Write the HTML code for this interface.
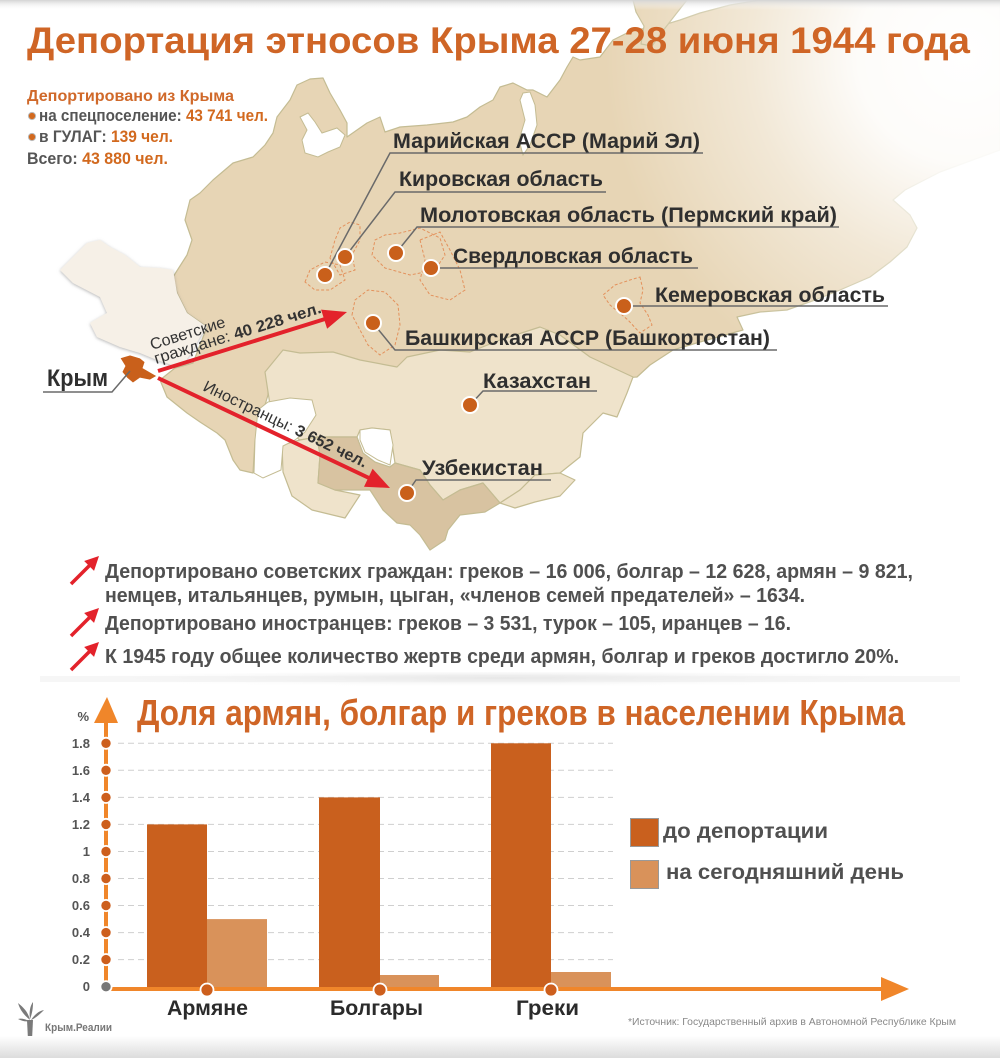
<!DOCTYPE html>
<html><head><meta charset="utf-8">
<style>
html,body{margin:0;padding:0;background:#fff;width:1000px;height:1058px;overflow:hidden}
svg{display:block}
text{font-family:"Liberation Sans","DejaVu Sans",sans-serif}
</style></head><body>
<svg width="1000" height="1058" viewBox="0 0 1000 1058" xmlns="http://www.w3.org/2000/svg">
<defs>
 <linearGradient id="topsh" x1="0" y1="0" x2="0" y2="1">
  <stop offset="0" stop-color="#d4d4d4"/><stop offset="1" stop-color="#ffffff" stop-opacity="0"/>
 </linearGradient>
 <linearGradient id="botsh" x1="0" y1="0" x2="0" y2="1">
  <stop offset="0" stop-color="#ffffff"/><stop offset="1" stop-color="#dcdcdc"/>
 </linearGradient>
 <radialGradient id="fade" cx="965" cy="55" r="360" gradientUnits="userSpaceOnUse">
  <stop offset="0" stop-color="#fff" stop-opacity="1"/>
  <stop offset="0.3" stop-color="#fff" stop-opacity="0.92"/>
  <stop offset="0.6" stop-color="#fff" stop-opacity="0.45"/>
  <stop offset="1" stop-color="#fff" stop-opacity="0"/>
 </radialGradient>
 <radialGradient id="sep" cx="500" cy="678" r="470" gradientUnits="userSpaceOnUse" gradientTransform="translate(0,678) scale(1,0.02) translate(0,-678)">
  <stop offset="0" stop-color="#dedede"/><stop offset="1" stop-color="#ffffff" stop-opacity="0"/>
 </radialGradient>
 <filter id="sh" x="-10%" y="-10%" width="120%" height="120%">
  <feDropShadow dx="0" dy="1" stdDeviation="1.6" flood-color="#777" flood-opacity="0.55"/>
 </filter>
</defs>

<rect x="0" y="0" width="1000" height="1058" fill="#fff"/>

<!-- ============ MAP ============ -->
<g stroke="#c4bc93" stroke-width="1.2" stroke-linejoin="round">
 <!-- Russia -->
 <path fill="#e7d5b5" d="M190,200 L200,193 L213,180 L233,163 L253,157 L265,145 L273,133 L277,117 L290,100 L297,85 L310,79 L323,78 L330,93 L340,110 L347,123 L347,137 L367,123 L380,117 L385,132 L400,127 L427,125 L453,122 L467,117 L480,107 L493,100 L500,87 L513,83 L527,90 L533,90 L547,97 L560,80 L567,67 L573,57 L580,60 L600,57 L613,40 L633,30 L657,27 L680,20 L700,13 L730,5 L760,0 L1000,0 L1000,150 L940,172 L905,190 L893,200 L910,215 L917,228 L907,247 L890,262 L870,277 L840,290 L815,300 L787,310 L760,312 L737,317 L743,330 L700,342 L673,350 L650,365 L637,377 L600,380 L450,380 L300,375 L268,380 L268,395 L262,415 L255,440 L253,473 L240,470 L233,460 L225,440 L217,433 L200,422 L187,413 L167,397 L160,380 L175,368 L193,363 L200,345 L207,327 L187,313 L177,293 L173,277 L187,255 L192,240 L185,220 Z"/>
 <!-- Novaya Zemlya -->
 <path fill="#e7d5b5" d="M633,0 L687,0 L676,14 L662,32 L652,46 L641,44 L644,26 L636,12 Z"/>
 <!-- Kazakhstan -->
 <path fill="#efe3cb" d="M265,372 L283,350 L300,353 L333,352 L360,360 L397,367 L407,357 L440,350 L470,352 L500,340 L540,327 L560,335 L590,357 L633,377 L627,393 L617,417 L603,413 L583,433 L580,457 L560,473 L535,475 L520,490 L500,503 L483,483 L460,490 L443,500 L430,485 L420,470 L395,463 L390,430 L372,428 L360,430 L357,437 L317,437 L300,440 L285,430 L275,420 L270,405 Z"/>
 <!-- Turkmenistan -->
 <path fill="#efe3cb" d="M282,445 L300,440 L317,437 L320,455 L318,483 L335,490 L360,495 L345,518 L312,510 L292,496 L283,472 Z"/>
 <!-- Kyrgyz etc -->
 <path fill="#efe3cb" d="M500,503 L520,490 L535,475 L560,473 L575,480 L560,496 L535,502 L515,508 Z"/>
 <!-- Uzbekistan -->
 <path fill="#d8c3a1" d="M317,437 L357,437 L363,453 L375,462 L390,467 L395,463 L420,470 L430,485 L443,500 L460,490 L483,483 L500,503 L485,512 L460,515 L448,530 L445,540 L430,550 L420,535 L410,525 L397,523 L383,510 L370,490 L335,490 L318,483 L320,455 Z"/>
</g>
<g fill="#fff" stroke="#c4bc93" stroke-width="1">
 <!-- Caspian -->
 <path d="M258,410 L268,402 L290,398 L312,400 L316,415 L305,432 L295,440 L283,446 L281,470 L263,478 L254,473 L255,440 Z"/>
 <!-- Aral -->
 <path d="M360,430 L372,428 L390,430 L393,445 L390,465 L378,460 L365,452 L360,440 Z"/>
 <!-- White sea -->
 <path d="M300,117 L308,113 L315,122 L322,133 L337,128 L345,135 L340,147 L328,152 L318,157 L305,153 L302,140 L307,130 Z"/>
 <!-- Ob gulf -->
 <path d="M523,93 L530,92 L535,105 L537,125 L530,145 L523,155 L519,140 L525,120 L520,100 Z"/>
</g>
<!-- Ukraine / Europe -->
<path filter="url(#sh)" fill="#f6f0e7" d="M60,270 L87,243 L100,240 L110,247 L125,255 L140,267 L160,268 L173,270 L177,293 L187,313 L207,327 L200,337 L193,350 L185,362 L172,365 L157,360 L140,353 L120,347 L97,337 L90,323 L107,313 L100,297 L73,283 Z"/>

<!-- fade -->
<rect x="500" y="0" width="500" height="420" fill="url(#fade)"/>

<!-- dashed regions -->
<g fill="none" stroke="#e3915c" stroke-width="1" stroke-dasharray="3,2">
 <path d="M305,282 L310,270 L325,262 L340,265 L345,280 L330,290 L315,290 Z"/>
 <path d="M330,258 L335,240 L340,228 L350,222 L360,225 L360,240 L352,255 L355,270 L340,275 Z"/>
 <path d="M372,255 L375,240 L385,235 L400,233 L420,228 L440,238 L445,255 L435,270 L410,275 L385,268 Z"/>
 <path d="M420,240 L440,232 L450,250 L460,270 L465,290 L450,300 L430,295 L420,280 L425,260 Z"/>
 <path d="M352,315 L355,300 L368,290 L385,292 L398,305 L400,325 L395,345 L380,355 L368,345 L360,330 Z"/>
 <path d="M640,277 L643,290 L640,303 L648,315 L652,325 L640,333 L628,320 L610,305 L603,295 L615,285 L630,280 Z"/>
</g>

<!-- Crimea -->
<path fill="#c9601b" stroke="#fff" stroke-width="0.8" d="M120,358 L130,355 L140,358 L145,362 L143,368 L150,372 L157,376 L150,380 L140,378 L133,383 L127,378 L122,372 L125,366 Z"/>

<!-- leader lines -->
<g fill="none" stroke="#6a6a6a" stroke-width="1.5">
 <polyline points="325,275 390,153 703,153"/>
 <polyline points="345,257 395,192 606,192"/>
 <polyline points="396,253 417,227 839,227"/>
 <polyline points="431,268 698,268"/>
 <polyline points="624,306 888,306"/>
 <polyline points="373,323 395,350 777,350"/>
 <polyline points="470,405 483,391 597,391"/>
 <polyline points="407,493 416,480 551,480"/>
 <polyline points="43,392 112,392 130,371"/>
</g>

<!-- dots -->
<g stroke="#fff" stroke-width="2" fill="#c9601b">
 <circle cx="325" cy="275" r="8"/>
 <circle cx="345" cy="257" r="8"/>
 <circle cx="396" cy="253" r="8"/>
 <circle cx="431" cy="268" r="8"/>
 <circle cx="624" cy="306" r="8"/>
 <circle cx="373" cy="323" r="8"/>
 <circle cx="470" cy="405" r="8"/>
 <circle cx="407" cy="493" r="8"/>
</g>

<!-- arrows -->
<g fill="#e3222b" stroke="#e3222b">
 <line x1="158" y1="371" x2="325" y2="319" stroke-width="4"/>
 <polygon points="347,312 327.1,328.7 321.1,309.6" stroke="none"/>
 <line x1="158" y1="378" x2="369" y2="478" stroke-width="4"/>
 <polygon points="390,488 364,486.7 372.6,468.7" stroke="none"/>
</g>

<!-- arrow texts -->
<g font-size="16" fill="#333">
 <text transform="translate(152,350) rotate(-17.5)" textLength="78" lengthAdjust="spacingAndGlyphs">Советские</text>
 <text transform="translate(156,364) rotate(-17.2)" textLength="174" lengthAdjust="spacingAndGlyphs">граждане: <tspan font-weight="bold">40 228 чел.</tspan></text>
 <text transform="translate(202,390) rotate(25.6)" textLength="180" lengthAdjust="spacingAndGlyphs">Иностранцы: <tspan font-weight="bold">3 652 чел.</tspan></text>
</g>

<!-- region labels -->
<g font-size="21" font-weight="bold" fill="#2f2f2f">
 <text x="393" y="148" textLength="307" lengthAdjust="spacingAndGlyphs">Марийская АССР (Марий Эл)</text>
 <text x="399" y="186" textLength="204" lengthAdjust="spacingAndGlyphs">Кировская область</text>
 <text x="420" y="222" textLength="417" lengthAdjust="spacingAndGlyphs">Молотовская область (Пермский край)</text>
 <text x="453" y="263" textLength="240" lengthAdjust="spacingAndGlyphs">Свердловская область</text>
 <text x="655" y="302" textLength="230" lengthAdjust="spacingAndGlyphs">Кемеровская область</text>
 <text x="405" y="345" textLength="365" lengthAdjust="spacingAndGlyphs">Башкирская АССР (Башкортостан)</text>
 <text x="483" y="388" textLength="108" lengthAdjust="spacingAndGlyphs">Казахстан</text>
 <text x="422" y="475" textLength="121" lengthAdjust="spacingAndGlyphs">Узбекистан</text>
 <text x="47" y="386" font-size="24" textLength="61" lengthAdjust="spacingAndGlyphs">Крым</text>
</g>

<!-- top shadow -->
<rect x="0" y="0" width="1000" height="10" fill="url(#topsh)"/>

<!-- Title -->
<text x="27" y="53" font-size="37" font-weight="bold" fill="#cf6526" textLength="943" lengthAdjust="spacingAndGlyphs">Депортация этносов Крыма 27-28 июня 1944 года</text>

<!-- Legend -->
<text x="27" y="101" font-size="16" font-weight="bold" fill="#d0692a" textLength="207" lengthAdjust="spacingAndGlyphs">Депортировано из Крыма</text>
<circle cx="32" cy="116" r="3.6" fill="#d2691e" stroke="#bbb" stroke-width="1"/>
<text x="39" y="121" font-size="17" font-weight="bold" fill="#555" textLength="229" lengthAdjust="spacingAndGlyphs">на спецпоселение: <tspan fill="#d2691e">43 741 чел.</tspan></text>
<circle cx="32" cy="137" r="3.6" fill="#d2691e" stroke="#bbb" stroke-width="1"/>
<text x="39" y="142" font-size="17" font-weight="bold" fill="#555" textLength="134" lengthAdjust="spacingAndGlyphs">в ГУЛАГ: <tspan fill="#d2691e">139 чел.</tspan></text>
<text x="27" y="164" font-size="17" font-weight="bold" fill="#555" textLength="141" lengthAdjust="spacingAndGlyphs">Всего: <tspan fill="#d2691e">43 880 чел.</tspan></text>

<!-- ============ TEXT BLOCK ============ -->
<g id="ic">
 <line x1="71" y1="584" x2="89.5" y2="565.5" stroke="#e3222b" stroke-width="3.5"/>
 <polygon points="99,556 94.05,570.85 84.15,560.95" fill="#e3222b"/>
</g>
<g transform="translate(0,52)">
 <line x1="71" y1="584" x2="89.5" y2="565.5" stroke="#e3222b" stroke-width="3.5"/>
 <polygon points="99,556 94.05,570.85 84.15,560.95" fill="#e3222b"/>
</g>
<g transform="translate(0,86)">
 <line x1="71" y1="584" x2="89.5" y2="565.5" stroke="#e3222b" stroke-width="3.5"/>
 <polygon points="99,556 94.05,570.85 84.15,560.95" fill="#e3222b"/>
</g>
<g font-size="20" font-weight="bold" fill="#505050">
 <text x="105" y="578" textLength="808" lengthAdjust="spacingAndGlyphs">Депортировано советских граждан: греков – 16 006, болгар – 12 628, армян – 9 821,</text>
 <text x="105" y="602" textLength="700" lengthAdjust="spacingAndGlyphs">немцев, итальянцев, румын, цыган, «членов семей предателей» – 1634.</text>
 <text x="105" y="630" textLength="686" lengthAdjust="spacingAndGlyphs">Депортировано иностранцев: греков – 3 531, турок – 105, иранцев – 16.</text>
 <text x="105" y="663" textLength="794" lengthAdjust="spacingAndGlyphs">К 1945 году общее количество жертв среди армян, болгар и греков достигло 20%.</text>
</g>

<!-- separator shadow -->
<ellipse cx="500" cy="679" rx="470" ry="7" fill="url(#sep)"/>
<rect x="40" y="676" width="920" height="6" fill="#eeeeee" opacity="0.55"/>

<!-- ============ CHART ============ -->
<text x="137" y="725" font-size="36" font-weight="bold" fill="#cf6526" textLength="768" lengthAdjust="spacingAndGlyphs">Доля армян, болгар и греков в населении Крыма</text>

<!-- gridlines -->
<g stroke="#cfcfcf" stroke-width="1" stroke-dasharray="6,4">
 <line x1="118" y1="743.3" x2="613" y2="743.3"/>
 <line x1="118" y1="770.3" x2="613" y2="770.3"/>
 <line x1="118" y1="797.4" x2="613" y2="797.4"/>
 <line x1="118" y1="824.4" x2="613" y2="824.4"/>
 <line x1="118" y1="851.5" x2="613" y2="851.5"/>
 <line x1="118" y1="878.5" x2="613" y2="878.5"/>
 <line x1="118" y1="905.5" x2="613" y2="905.5"/>
 <line x1="118" y1="932.6" x2="613" y2="932.6"/>
 <line x1="118" y1="959.6" x2="613" y2="959.6"/>
</g>

<!-- bars -->
<rect x="147" y="824.4" width="60" height="164" fill="#c9601e"/>
<rect x="207" y="919.1" width="60" height="69" fill="#d9925a"/>
<rect x="319" y="797.4" width="61" height="191" fill="#c9601e"/>
<rect x="380" y="975" width="59" height="13" fill="#d9925a"/>
<rect x="491" y="743.3" width="60" height="245" fill="#c9601e"/>
<rect x="551" y="972" width="60" height="16" fill="#d9925a"/>

<!-- axes -->
<line x1="106" y1="990" x2="106" y2="720" stroke="#f0862a" stroke-width="4"/>
<polygon points="94,723 118,723 107,697" fill="#f0862a"/>
<line x1="104" y1="989" x2="884" y2="989" stroke="#f0862a" stroke-width="4"/>
<polygon points="881,977 881,1001 909,989" fill="#f0862a"/>

<!-- y dots -->
<g stroke="#fff" stroke-width="1.8" fill="#cd5f1d">
 <circle cx="106" cy="743.3" r="5.6"/>
 <circle cx="106" cy="770.3" r="5.6"/>
 <circle cx="106" cy="797.4" r="5.6"/>
 <circle cx="106" cy="824.4" r="5.6"/>
 <circle cx="106" cy="851.5" r="5.6"/>
 <circle cx="106" cy="878.5" r="5.6"/>
 <circle cx="106" cy="905.5" r="5.6"/>
 <circle cx="106" cy="932.6" r="5.6"/>
 <circle cx="106" cy="959.6" r="5.6"/>
 <circle cx="106" cy="986.7" r="5.6" fill="#777"/>
 <circle cx="207" cy="990" r="6.5"/>
 <circle cx="380" cy="990" r="6.5"/>
 <circle cx="551" cy="990" r="6.5"/>
</g>

<!-- y labels -->
<g font-size="13" font-weight="bold" fill="#555" text-anchor="end">
 <text x="89" y="721">%</text>
 <text x="90" y="748">1.8</text>
 <text x="90" y="775">1.6</text>
 <text x="90" y="802">1.4</text>
 <text x="90" y="829">1.2</text>
 <text x="90" y="856">1</text>
 <text x="90" y="883">0.8</text>
 <text x="90" y="910">0.6</text>
 <text x="90" y="937">0.4</text>
 <text x="90" y="964">0.2</text>
 <text x="90" y="991">0</text>
</g>

<!-- category labels -->
<g font-size="21" font-weight="bold" fill="#2b2b2b">
 <text x="167" y="1015" textLength="81" lengthAdjust="spacingAndGlyphs">Армяне</text>
 <text x="330" y="1015" textLength="93" lengthAdjust="spacingAndGlyphs">Болгары</text>
 <text x="516" y="1015" textLength="63" lengthAdjust="spacingAndGlyphs">Греки</text>
</g>

<!-- chart legend -->
<rect x="630.5" y="818.5" width="28" height="28" fill="#c9601e" stroke="#999" stroke-width="1"/>
<rect x="630.5" y="860.5" width="28" height="28" fill="#d9925a" stroke="#999" stroke-width="1"/>
<g font-size="21" font-weight="bold" fill="#505050">
 <text x="663" y="838" textLength="165" lengthAdjust="spacingAndGlyphs">до депортации</text>
 <text x="666" y="879" textLength="238" lengthAdjust="spacingAndGlyphs">на сегодняшний день</text>
</g>

<!-- source -->
<text x="628" y="1025" font-size="10" fill="#888" textLength="328" lengthAdjust="spacingAndGlyphs">*Источник: Государственный архив в Автономной Республике Крым</text>

<!-- logo -->
<g fill="#7a7a7a">
 <path d="M27,1020 L33,1020 L32,1040 L28,1040 Z"/>
 <path d="M30,1020 C24,1015 20,1010 18,1003 C24,1008 28,1012 30,1020 Z"/>
 <path d="M30,1019 C29,1012 30,1006 33,1002 C33,1009 32,1014 30,1019 Z"/>
 <path d="M31,1020 C35,1014 39,1011 44,1010 C40,1014 36,1018 31,1020 Z"/>
 <path d="M29,1021 C25,1019 21,1018 18,1019 C22,1021 26,1022 29,1021 Z"/>
</g>
<text x="45" y="1031" font-size="11" font-weight="bold" fill="#777" textLength="67" lengthAdjust="spacingAndGlyphs">Крым.Реалии</text>

<!-- bottom shadow -->
<rect x="0" y="1036" width="1000" height="22" fill="url(#botsh)"/>
</svg>
</body></html>
